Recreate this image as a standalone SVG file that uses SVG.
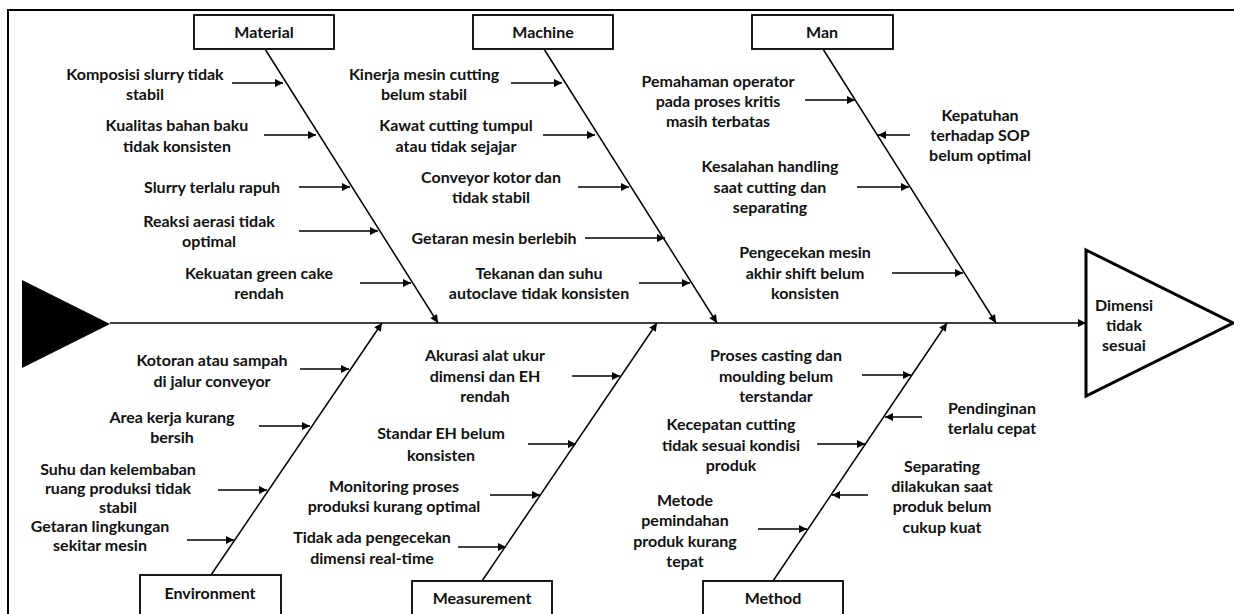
<svg xmlns="http://www.w3.org/2000/svg" width="1234" height="614" viewBox="0 0 1234 614">
<defs>
<marker id="ah" viewBox="0 0 10 10" refX="10" refY="5" markerWidth="10" markerHeight="8" markerUnits="userSpaceOnUse" orient="auto">
<path d="M0,0 L10,5 L0,10 z" fill="#000"/>
</marker>
<style>
.t{font-family:Lato,"Liberation Sans",sans-serif;font-weight:bold;font-size:16px;fill:#111;text-anchor:middle}
.box{fill:#fff;stroke:#000;stroke-width:1.8}
.ar{stroke:#000;stroke-width:1.5;fill:none;marker-end:url(#ah)}
</style>
</defs>
<rect width="1234" height="614" fill="#fff"/>
<rect x="8" y="10" width="1240" height="620" fill="none" stroke="#000" stroke-width="2"/>

<g id="connectors">
<line class="ar" x1="110" y1="323" x2="1086" y2="323"/>
<line class="ar" x1="265" y1="49" x2="438" y2="323"/>
<line class="ar" x1="544" y1="49" x2="717" y2="323"/>
<line class="ar" x1="823" y1="49" x2="996" y2="323"/>
<line class="ar" x1="211" y1="575" x2="382" y2="323"/>
<line class="ar" x1="482" y1="581" x2="657" y2="323"/>
<line class="ar" x1="773" y1="581" x2="947" y2="323"/>
<line class="ar" x1="232" y1="83" x2="283" y2="83"/>
<line class="ar" x1="264" y1="135" x2="316" y2="135"/>
<line class="ar" x1="299" y1="187" x2="350" y2="187"/>
<line class="ar" x1="299" y1="231" x2="378" y2="231"/>
<line class="ar" x1="360" y1="283" x2="411" y2="283"/>
<line class="ar" x1="511" y1="83" x2="562" y2="83"/>
<line class="ar" x1="543" y1="135" x2="595" y2="135"/>
<line class="ar" x1="578" y1="187" x2="629" y2="187"/>
<line class="ar" x1="585" y1="238" x2="665" y2="238"/>
<line class="ar" x1="639" y1="283" x2="690" y2="283"/>
<line class="ar" x1="805" y1="100" x2="855" y2="100"/>
<line class="ar" x1="910" y1="135" x2="878" y2="135"/>
<line class="ar" x1="857" y1="187" x2="909" y2="187"/>
<line class="ar" x1="892" y1="273" x2="963" y2="273"/>
<line class="ar" x1="300" y1="369" x2="349" y2="369"/>
<line class="ar" x1="259" y1="426" x2="310" y2="426"/>
<line class="ar" x1="218" y1="490" x2="267" y2="490"/>
<line class="ar" x1="187" y1="540" x2="234" y2="540"/>
<line class="ar" x1="572" y1="376" x2="620" y2="376"/>
<line class="ar" x1="528" y1="444" x2="576" y2="444"/>
<line class="ar" x1="490" y1="495" x2="540" y2="495"/>
<line class="ar" x1="458" y1="547" x2="506" y2="547"/>
<line class="ar" x1="862" y1="375" x2="911" y2="375"/>
<line class="ar" x1="817" y1="444" x2="865" y2="444"/>
<line class="ar" x1="922" y1="417" x2="885" y2="417"/>
<line class="ar" x1="868" y1="495" x2="832" y2="495"/>
<line class="ar" x1="758" y1="529" x2="807" y2="529"/>
</g>

<g id="head-tail">
<polygon points="22,280 110,324 22,368" fill="#000"/>
</g>

<g id="effect">
<polygon points="1086,250 1233,323 1086,396" fill="#fff" stroke="#000" stroke-width="3"/>
<text class="t" x="1124" y="311">Dimensi</text>
<text class="t" x="1124" y="331">tidak</text>
<text class="t" x="1124" y="351">sesuai</text>
</g>

<g id="material">
<rect class="box" x="194" y="15" width="140" height="34"/>
<text class="t" x="264" y="38">Material</text>
<text class="t" x="145" y="80">Komposisi slurry tidak</text>
<text class="t" x="145" y="100">stabil</text>
<text class="t" x="177" y="131">Kualitas bahan baku</text>
<text class="t" x="177" y="152">tidak konsisten</text>
<text class="t" x="212" y="193">Slurry terlalu rapuh</text>
<text class="t" x="209" y="227">Reaksi aerasi tidak</text>
<text class="t" x="209" y="247">optimal</text>
<text class="t" x="259" y="279">Kekuatan green cake</text>
<text class="t" x="259" y="299">rendah</text>
</g>

<g id="machine">
<rect class="box" x="473" y="15" width="140" height="34"/>
<text class="t" x="543" y="38">Machine</text>
<text class="t" x="424" y="80">Kinerja mesin cutting</text>
<text class="t" x="424" y="100">belum stabil</text>
<text class="t" x="456" y="131">Kawat cutting tumpul</text>
<text class="t" x="456" y="152">atau tidak sejajar</text>
<text class="t" x="491" y="183">Conveyor kotor dan</text>
<text class="t" x="491" y="203">tidak stabil</text>
<text class="t" x="494" y="244">Getaran mesin berlebih</text>
<text class="t" x="539" y="279">Tekanan dan suhu</text>
<text class="t" x="539" y="299">autoclave tidak konsisten</text>
</g>

<g id="man">
<rect class="box" x="752" y="15" width="141" height="34"/>
<text class="t" x="822" y="38">Man</text>
<text class="t" x="718" y="87">Pemahaman operator</text>
<text class="t" x="718" y="107">pada proses kritis</text>
<text class="t" x="718" y="127">masih terbatas</text>
<text class="t" x="980" y="121">Kepatuhan</text>
<text class="t" x="980" y="141">terhadap SOP</text>
<text class="t" x="980" y="161">belum optimal</text>
<text class="t" x="770" y="172">Kesalahan handling</text>
<text class="t" x="770" y="193">saat cutting dan</text>
<text class="t" x="770" y="213">separating</text>
<text class="t" x="805" y="258">Pengecekan mesin</text>
<text class="t" x="805" y="279">akhir shift belum</text>
<text class="t" x="805" y="299">konsisten</text>
</g>

<g id="environment">
<rect class="box" x="140" y="575" width="141" height="45"/>
<text class="t" x="210" y="599">Environment</text>
<text class="t" x="212" y="366">Kotoran atau sampah</text>
<text class="t" x="212" y="387">di jalur conveyor</text>
<text class="t" x="172" y="423">Area kerja kurang</text>
<text class="t" x="172" y="443">bersih</text>
<text class="t" x="118" y="475">Suhu dan kelembaban</text>
<text class="t" x="118" y="494">ruang produksi tidak</text>
<text class="t" x="118" y="513">stabil</text>
<text class="t" x="100" y="532">Getaran lingkungan</text>
<text class="t" x="100" y="551">sekitar mesin</text>
</g>

<g id="measurement">
<rect class="box" x="412" y="581" width="140" height="45"/>
<text class="t" x="482" y="604">Measurement</text>
<text class="t" x="485" y="361">Akurasi alat ukur</text>
<text class="t" x="485" y="382">dimensi dan EH</text>
<text class="t" x="485" y="402">rendah</text>
<text class="t" x="441" y="439">Standar EH belum</text>
<text class="t" x="441" y="461">konsisten</text>
<text class="t" x="394" y="492">Monitoring proses</text>
<text class="t" x="394" y="512">produksi kurang optimal</text>
<text class="t" x="372" y="543">Tidak ada pengecekan</text>
<text class="t" x="372" y="564">dimensi real-time</text>
</g>

<g id="method">
<rect class="box" x="703" y="581" width="140" height="45"/>
<text class="t" x="773" y="604">Method</text>
<text class="t" x="776" y="361">Proses casting dan</text>
<text class="t" x="776" y="382">moulding belum</text>
<text class="t" x="776" y="402">terstandar</text>
<text class="t" x="731" y="430">Kecepatan cutting</text>
<text class="t" x="731" y="451">tidak sesuai kondisi</text>
<text class="t" x="731" y="471">produk</text>
<text class="t" x="992" y="414">Pendinginan</text>
<text class="t" x="992" y="434">terlalu cepat</text>
<text class="t" x="942" y="472">Separating</text>
<text class="t" x="942" y="492">dilakukan saat</text>
<text class="t" x="942" y="512">produk belum</text>
<text class="t" x="942" y="533">cukup kuat</text>
<text class="t" x="685" y="506">Metode</text>
<text class="t" x="685" y="526">pemindahan</text>
<text class="t" x="685" y="547">produk kurang</text>
<text class="t" x="685" y="567">tepat</text>
</g>
</svg>
